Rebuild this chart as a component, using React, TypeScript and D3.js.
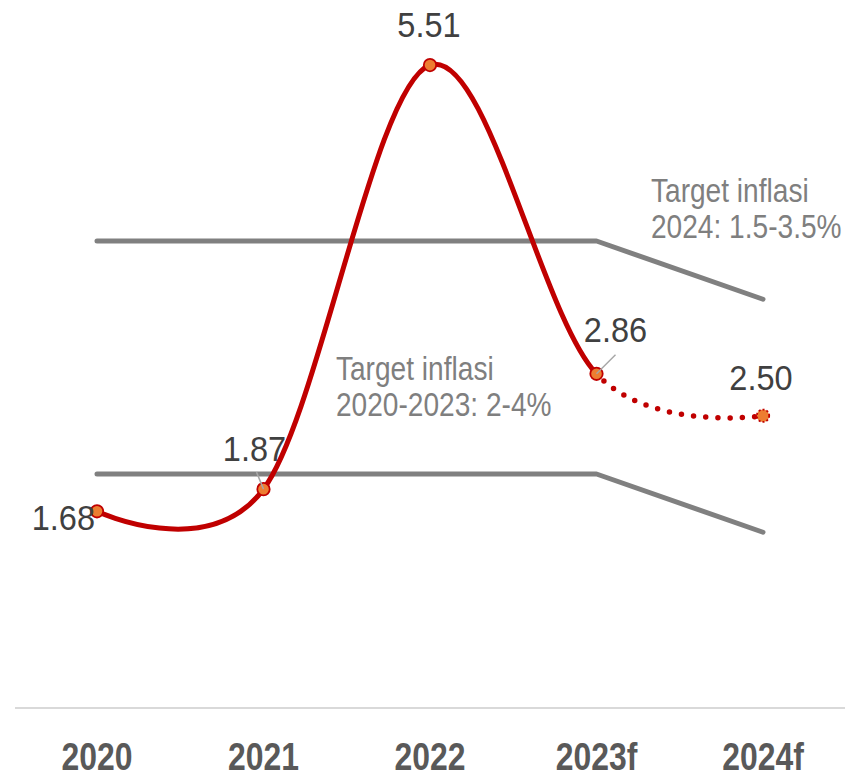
import React from "react";
import * as d3 from "d3";

const categories = ["2020", "2021", "2022", "2023f", "2024f"];
const inflation = [1.68, 1.87, 5.51, 2.86, 2.5];
const targetUpper = [4, 4, 4, 4, 3.5];
const targetLower = [2, 2, 2, 2, 1.5];
const valueLabels = ["1.68", "1.87", "5.51", "2.86", "2.50"];
const targetNotes = [
  { lines: ["Target inflasi", "2020-2023: 2-4%"], at: 1.435, value: 2.807 },
  { lines: ["Target inflasi", "2024: 1.5-3.5%"], at: 3.327, value: 4.335 },
];

const W = 859;
const H = 779;
const FONT = "'Liberation Sans Narrow', 'Liberation Sans', Arial, sans-serif";

// label offsets relative to the marker (dx, dy, anchor)
const labelOffsets: [number, number, "start" | "middle" | "end"][] = [
  [-2, 19, "end"],
  [-9, -28, "middle"],
  [-1, -28, "middle"],
  [19, -32, "middle"],
  [-2, -26, "middle"],
];

export default function App() {
  const x = d3.scalePoint<string>().domain(categories).range([97, 763]);
  const y = d3.scaleLinear().domain([0, 6]).range([707, 8]);
  const xi = d3.scaleLinear().domain([0, categories.length - 1]).range([97, 763]);

  const pts: [number, number][] = inflation.map((v, i) => [x(categories[i])!, y(v)]);
  const curve = d3.line().curve(d3.curveCardinal.tension(0));
  const pathD = curve(pts) || "";
  const straight = d3.line();
  const upperD = straight(targetUpper.map((v, i) => [x(categories[i])!, y(v)])) || "";
  const lowerD = straight(targetLower.map((v, i) => [x(categories[i])!, y(v)])) || "";
  const splitX = x(categories[3])!;

  const labelFill = "#404040";

  return (
    <svg width={W} height={H} style={{ position: "absolute", left: 0, top: 0 }}>
      <defs>
        <clipPath id="solidClip">
          <rect x={0} y={0} width={splitX} height={H} />
        </clipPath>
        <clipPath id="dotClip">
          <rect x={splitX} y={0} width={W - splitX} height={H} />
        </clipPath>
      </defs>
      <rect width={W} height={H} fill="#fff" />
      {/* axis line */}
      <line x1={15} x2={845} y1={y(0) + 1} y2={y(0) + 1} stroke="#d9d9d9" strokeWidth={2} />
      {/* target band */}
      <path d={upperD} fill="none" stroke="#808080" strokeWidth={5} strokeLinecap="round" strokeLinejoin="round" />
      <path d={lowerD} fill="none" stroke="#808080" strokeWidth={5} strokeLinecap="round" strokeLinejoin="round" />
      {/* inflation line */}
      <path d={pathD} fill="none" stroke="#C00000" strokeWidth={5} strokeLinecap="round" clipPath="url(#solidClip)" />
      <path d={pathD} fill="none" stroke="#C00000" strokeWidth={5.5} strokeLinecap="round" strokeDasharray="0 12.2" clipPath="url(#dotClip)" />
      {/* markers */}
      {pts.map((p, i) => (
        <circle
          key={i}
          cx={p[0]}
          cy={p[1]}
          r={6.2}
          fill="#ED7D31"
          stroke="#C00000"
          strokeWidth={1.8}
          strokeDasharray={i === 4 ? "2 2" : undefined}
        />
      ))}
      {/* leader lines */}
      <line x1={pts[1][0]} y1={pts[1][1]} x2={pts[1][0] - 7} y2={pts[1][1] - 17} stroke="#a6a6a6" strokeWidth={1.5} />
      <line x1={pts[3][0]} y1={pts[3][1]} x2={pts[3][0] + 19} y2={pts[3][1] - 19} stroke="#a6a6a6" strokeWidth={1.5} />
      {/* value labels */}
      <g fontFamily={FONT} fontSize={35} fill={labelFill}>
        {pts.map((p, i) => {
          const [dx, dy, anchor] = labelOffsets[i];
          return (
            <text key={i} transform={`translate(${p[0] + dx},${p[1] + dy}) scale(0.93,1)`} textAnchor={anchor}>
              {valueLabels[i]}
            </text>
          );
        })}
      </g>
      {/* target notes */}
      <g fontFamily={FONT} fontSize={32.5} fill="#7f7f7f">
        {targetNotes.map((n, i) => (
          <g key={i} transform={`translate(${xi(n.at)},${y(n.value)}) scale(0.865,1)`}>
            {n.lines.map((l, j) => (
              <text key={j} x={0} y={j * 36}>{l}</text>
            ))}
          </g>
        ))}
      </g>
      {/* x axis labels */}
      <g fontFamily={FONT} fontSize={38} fontWeight="bold" fill="#595959">
        {categories.map((c) => (
          <text key={c} transform={`translate(${x(c)},770) scale(0.84,1)`} textAnchor="middle">{c}</text>
        ))}
      </g>
    </svg>
  );
}
